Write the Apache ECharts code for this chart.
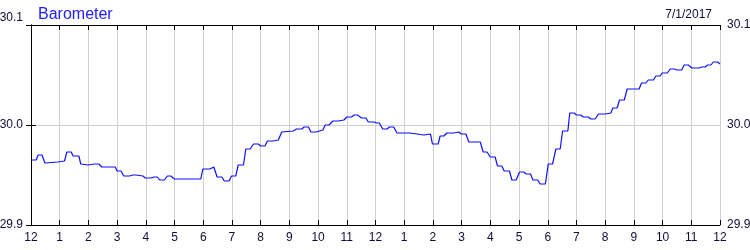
<!DOCTYPE html>
<html>
<head>
<meta charset="utf-8">
<script src="https://cdn.jsdelivr.net/npm/echarts@6/dist/echarts.min.js"></script>
<style>
html,body{margin:0;padding:0;background:#fff;}
#chart{width:750px;height:250px;}
</style>
</head>
<body>
<div id="chart"></div>
<script>
// Time of day in minutes since midnight (12 AM .. next 12 AM)
const minutes = [0,11,15,23,29,56,70,75,84,88,100,104,119,133,142,148,176,180,188,194,206,213,219,234,239,251,257,264,269,279,285,292,300,355,359,374,378,382,389,399,404,414,419,428,433,444,449,458,465,475,480,489,494,506,517,524,548,555,566,571,580,585,596,600,610,615,623,631,642,646,654,660,670,675,682,691,700,705,717,723,728,735,744,749,758,765,791,795,807,810,821,824,835,839,851,855,863,869,883,887,894,899,909,915,939,945,953,960,970,975,984,989,1000,1005,1014,1021,1030,1035,1044,1049,1059,1064,1075,1081,1090,1097,1106,1111,1122,1126,1135,1140,1149,1154,1165,1170,1179,1186,1200,1203,1212,1216,1225,1230,1240,1246,1271,1276,1285,1290,1301,1306,1315,1319,1330,1336,1345,1350,1360,1365,1374,1381,1396,1402,1409,1414,1421,1426,1435,1440];
// Barometric pressure (inHg)
const pressure = [29.965,29.965,29.970,29.970,29.962,29.963,29.964,29.973,29.973,29.969,29.969,29.961,29.960,29.961,29.961,29.958,29.958,29.954,29.954,29.949,29.949,29.950,29.950,29.949,29.947,29.947,29.948,29.948,29.945,29.945,29.949,29.949,29.946,29.946,29.956,29.956,29.958,29.958,29.948,29.948,29.944,29.944,29.949,29.949,29.960,29.960,29.976,29.976,29.981,29.981,29.979,29.979,29.984,29.984,29.985,29.993,29.994,29.996,29.996,29.998,29.998,29.993,29.993,29.995,29.995,30.000,30.000,30.004,30.004,30.005,30.005,30.008,30.008,30.010,30.010,30.007,30.007,30.003,30.003,30.002,30.002,29.996,29.996,29.998,29.998,29.992,29.992,29.991,29.991,29.990,29.990,29.991,29.991,29.981,29.981,29.989,29.989,29.992,29.992,29.993,29.993,29.991,29.991,29.983,29.983,29.973,29.973,29.968,29.968,29.959,29.959,29.954,29.954,29.945,29.945,29.953,29.953,29.951,29.951,29.945,29.945,29.941,29.941,29.961,29.961,29.976,29.976,29.994,29.994,30.012,30.012,30.010,30.010,30.008,30.008,30.006,30.006,30.011,30.011,30.012,30.012,30.017,30.017,30.025,30.025,30.036,30.036,30.042,30.042,30.045,30.045,30.049,30.049,30.052,30.052,30.056,30.056,30.055,30.055,30.060,30.060,30.057,30.057,30.058,30.058,30.060,30.060,30.063,30.063,30.061];
const yTicks = [29.9, 30.0, 30.1];
const titleText = 'Barometer';
const dateText = '7/1/2017';

const data = minutes.map((m, i) => [m, pressure[i]]);
const labelColor = '#0d0d3a';
const hourLabel = v => { const h = Math.round(v / 60) % 12; return h === 0 ? '12' : String(h); };
const font = '"Liberation Sans", Arial, sans-serif';

const chart = echarts.init(document.getElementById('chart'), null, {renderer: 'canvas'});
const xBase = {
  type: 'value', min: 0, max: 1440, interval: 60,
  axisLine: {show: true, lineStyle: {color: '#000', width: 1}},
  axisTick: {show: true, inside: true, length: 5, lineStyle: {color: '#000'}},
  splitLine: {show: false}
};
const yBase = {
  type: 'value', min: yTicks[0], max: yTicks[yTicks.length - 1], interval: 0.1,
  axisLine: {show: true, lineStyle: {color: '#000', width: 1}},
  axisTick: {show: true, inside: true, length: 5, lineStyle: {color: '#000'}},
  splitLine: {show: false}
};
chart.setOption({
  animation: false,
  backgroundColor: '#fff',
  title: [
    {text: titleText, left: 33, top: 2, textStyle: {color: '#2020ff', fontSize: 16, fontWeight: 'normal', fontFamily: font}},
    {text: dateText, right: 33, top: 4, textStyle: {color: labelColor, fontSize: 12, fontWeight: 'normal', fontFamily: font}}
  ],
  grid: {left: 31, right: 30, top: 25, bottom: 25, containLabel: false, outerBoundsMode: 'none'},
  xAxis: [
    Object.assign({}, xBase, {
      position: 'bottom',
      axisLabel: {show: true, margin: 7, color: labelColor, fontSize: 12, fontFamily: font, formatter: hourLabel},
      splitLine: {show: true, lineStyle: {color: '#d0d0d0', width: 1}}
    }),
    Object.assign({}, xBase, {position: 'top', axisLabel: {show: false}})
  ],
  yAxis: [
    Object.assign({}, yBase, {
      position: 'left',
      axisLabel: {show: true, margin: 8, color: labelColor, fontSize: 12, fontFamily: font,
        formatter: v => {
          const s = v.toFixed(1);
          return Math.abs(v - yTicks[yTicks.length - 1]) < 1e-6 ? '{top|' + s + '}' : s;
        },
        rich: {top: {padding: [0, 0, 14, 0], fontSize: 12, color: labelColor, fontFamily: font}}
      },
      splitLine: {show: true, lineStyle: {color: '#d0d0d0', width: 1}}
    }),
    Object.assign({}, yBase, {
      position: 'right',
      axisLabel: {show: true, margin: 7, color: labelColor, fontSize: 12, fontFamily: font,
        formatter: v => v.toFixed(1)}
    })
  ],
  series: [{
    type: 'line', xAxisIndex: 0, yAxisIndex: 0, data: data,
    showSymbol: false, symbol: 'none',
    lineStyle: {color: '#0f0fff', width: 1.2},
    z: 5
  }]
});
</script>
</body>
</html>
